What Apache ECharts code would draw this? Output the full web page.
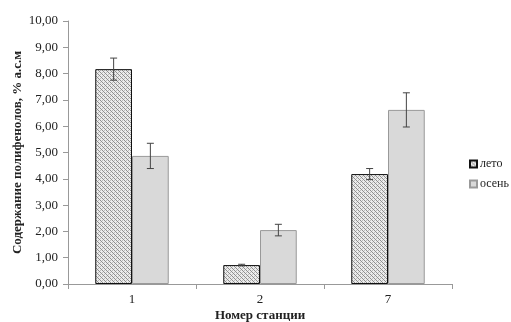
<!DOCTYPE html>
<html><head><meta charset="utf-8">
<script src="https://cdn.jsdelivr.net/npm/echarts@6/dist/echarts.min.js"></script>
<style>html,body{margin:0;padding:0;background:#fff}#c{width:511px;height:322px}</style>
</head><body><div id="c"></div>
<script>
const categories = ['1', '2', '7'];
const summer = [8.17, 0.72, 4.18];
const summerErr = [0.42, 0.03, 0.21];
const autumn = [4.87, 2.05, 6.62];
const autumnErr = [0.48, 0.22, 0.65];
const yTicks = [0, 1, 2, 3, 4, 5, 6, 7, 8, 9, 10];

function makePattern() {
  const c = document.createElement('canvas');
  c.width = 4; c.height = 4;
  const g = c.getContext('2d');
  g.fillStyle = '#ececec'; g.fillRect(0, 0, 4, 4);
  g.fillStyle = '#8f8f8f';
  g.fillRect(0, 0, 1, 1); g.fillRect(1, 1, 1, 1); g.fillRect(2, 2, 1, 1); g.fillRect(3, 3, 1, 1);
  g.fillStyle = '#bdbdbd';
  g.fillRect(2, 0, 1, 1); g.fillRect(0, 2, 1, 1);
  return c;
}
const pattern = { image: makePattern(), repeat: 'repeat' };

const font = 'Liberation Serif';
const chart = echarts.init(document.getElementById('c'), null, { renderer: 'canvas' });

function errSeries(vals, errs, idx) {
  return {
    type: 'custom',
    name: 'err' + idx,
    data: vals.map((v, i) => [i, v - errs[i], v + errs[i]]),
    z: 10,
    renderItem: function (params, api) {
      const x = api.value(0);
      const lo = api.coord([x, api.value(1)]);
      const hi = api.coord([x, api.value(2)]);
      const bw = api.size([1, 0])[0];
      const barW = bw * 0.287;
      const cx = lo[0] + (idx === 0 ? -barW / 2 : barW / 2);
      const cap = 3.5;
      const st = { stroke: '#444', lineWidth: 1 };
      return {
        type: 'group',
        children: [
          { type: 'line', shape: { x1: cx, y1: lo[1], x2: cx, y2: hi[1] }, style: st },
          { type: 'line', shape: { x1: cx - cap, y1: lo[1], x2: cx + cap, y2: lo[1] }, style: st },
          { type: 'line', shape: { x1: cx - cap, y1: hi[1], x2: cx + cap, y2: hi[1] }, style: st }
        ]
      };
    },
    silent: true
  };
}

chart.setOption({
  animation: false,
  backgroundColor: '#fff',
  textStyle: { fontFamily: font },
  grid: { left: 68, right: 59, top: 21, bottom: 38, outerBoundsMode: 'none', containLabel: false },
  legend: {
    orient: 'vertical',
    left: 464, top: 153,
    padding: 5,
    itemWidth: 7, itemHeight: 7, itemGap: 8,
    icon: 'rect',
    textStyle: { fontFamily: font, fontSize: 12, color: '#222', padding: [0, 0, 0, -2] },
    data: ['лето', 'осень']
  },
  xAxis: {
    type: 'category',
    data: categories,
    name: 'Номер станции',
    nameLocation: 'middle',
    nameGap: 25,
    nameMoveOverlap: false,
    nameTextStyle: { fontFamily: font, fontWeight: 'bold', fontSize: 13, color: '#222' },
    axisLine: { lineStyle: { color: '#999', width: 1 } },
    axisTick: { show: true, alignWithLabel: false, length: 5, lineStyle: { color: '#999' } },
    axisLabel: { fontFamily: font, fontSize: 13, color: '#222', margin: 9 }
  },
  yAxis: {
    type: 'value',
    min: yTicks[0], max: yTicks[yTicks.length - 1], interval: 1,
    name: 'Содержание полифенолов, % а.с.м',
    nameLocation: 'middle',
    nameGap: 44,
    nameMoveOverlap: false,
    nameTextStyle: { fontFamily: font, fontWeight: 'bold', fontSize: 13, color: '#222' },
    axisLine: { show: true, lineStyle: { color: '#999', width: 1 } },
    axisTick: { show: true, length: 5, lineStyle: { color: '#999' } },
    splitLine: { show: false },
    axisLabel: {
      fontFamily: font, fontSize: 13, color: '#222', margin: 10,
      formatter: v => v.toFixed(2).replace('.', ',')
    }
  },
  series: [
    {
      name: 'лето', type: 'bar', data: summer,
      barGap: '0%', barCategoryGap: '42.6%',
      itemStyle: { color: pattern, borderColor: '#111', borderWidth: 1 }
    },
    {
      name: 'осень', type: 'bar', data: autumn,
      itemStyle: { color: '#d9d9d9', borderColor: '#999', borderWidth: 1 }
    },
    errSeries(summer, summerErr, 0),
    errSeries(autumn, autumnErr, 1)
  ]
});
</script>
</body></html>
